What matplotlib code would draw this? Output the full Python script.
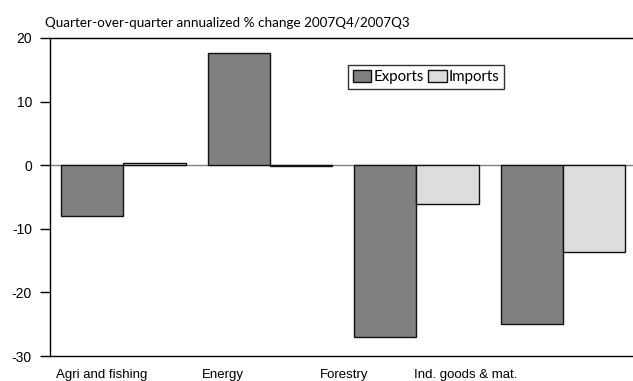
import matplotlib
matplotlib.use("Agg")
import matplotlib.pyplot as plt
import numpy as np

categories = ["Agri and fishing", "Energy", "Forestry", "Ind. goods & mat."]
exports = [-8.0, 17.7, -27.0, -25.0]
imports = [0.4, -0.2, -6.1, -13.6]
y_ticks = [-30, -20, -10, 0, 10, 20]

title_font = "Lato"
label_font = "Liberation Sans"

fig = plt.figure(figsize=(6.33, 3.81), dpi=100)
ax = fig.add_axes([0.079, 0.0656, 0.926, 0.8347])

x = np.arange(len(categories))
w = 0.425
ax.bar(x - w / 2, exports, w, color="#808080", edgecolor="#111111",
       linewidth=1.0, label="Exports", zorder=3)
ax.bar(x + w / 2, imports, w, color="#dddddd", edgecolor="#111111",
       linewidth=1.0, label="Imports", zorder=3)

ax.axhline(0, color="#808080", linewidth=1.0, zorder=2)

ax.set_xlim(-0.5, 3.5)
ax.set_ylim(-30, 20)
ax.set_yticks(y_ticks)
ax.set_yticklabels([str(v) for v in y_ticks], fontfamily=label_font, fontsize=10)
ax.tick_params(axis="y", direction="out", length=7, width=1, pad=6, color="black")

# category labels sit below the axis, spaced slightly tighter than the bar groups
label_pos = np.arange(len(categories)) * 0.83 - 0.15
ax.set_xticks(label_pos)
ax.set_xticklabels(categories, fontfamily=label_font, fontsize=9.5)
ax.tick_params(axis="x", length=0, pad=9)

for side in ["left", "top", "bottom"]:
    ax.spines[side].set_color("black")
    ax.spines[side].set_linewidth(1.0)
ax.spines["right"].set_visible(False)

fig.text(0.071, 0.94, "Quarter-over-quarter annualized % change 2007Q4/2007Q3",
         fontfamily=title_font, fontsize=9.7, ha="left", va="center")

leg = ax.legend(loc="upper left", bbox_to_anchor=(0.508, 0.915), ncol=2,
                frameon=True, fancybox=False, edgecolor="black",
                prop={"family": title_font, "size": 10.8},
                handlelength=1.25, handleheight=0.9, handletextpad=0.12,
                columnspacing=0.3, borderpad=0.32, borderaxespad=0)
leg.get_frame().set_linewidth(1.0)

fig.savefig("out.png", dpi=100)
